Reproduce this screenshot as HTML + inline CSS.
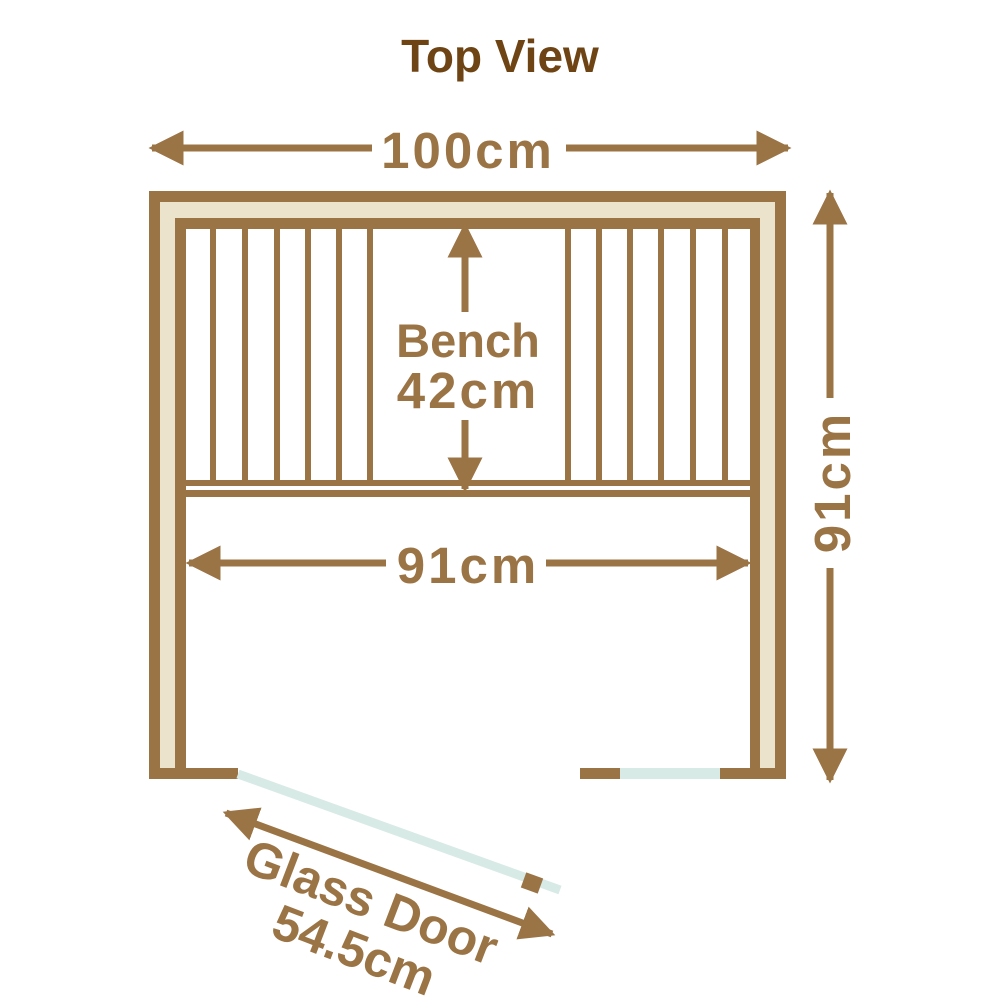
<!DOCTYPE html>
<html><head><meta charset="utf-8"><style>
html,body{margin:0;padding:0;background:#fff;}
svg{display:block;}
text{font-family:"Liberation Sans",sans-serif;font-weight:bold;}
</style></head><body>
<svg width="1000" height="1000" viewBox="0 0 1000 1000" xmlns="http://www.w3.org/2000/svg">
<defs>
<marker id="ah" viewBox="0 0 10 10" refX="9" refY="5" markerWidth="5" markerHeight="5" orient="auto-start-reverse" markerUnits="strokeWidth">
<path d="M0,0 L10,5 L0,10 z" fill="#9b7446"/>
</marker>
</defs>
<text x="500" y="72" text-anchor="middle" font-size="46" fill="#6e4414">Top View</text>
<g>
<rect x="149" y="191" width="637" height="11" fill="#9b7446"/>
<rect x="149" y="191" width="11" height="588" fill="#9b7446"/>
<rect x="775" y="191" width="11" height="588" fill="#9b7446"/>
<rect x="160" y="202" width="615" height="16" fill="#ece3cc"/>
<rect x="160" y="202" width="15" height="566" fill="#ece3cc"/>
<rect x="760" y="202" width="15" height="566" fill="#ece3cc"/>
<rect x="175" y="218" width="585" height="11" fill="#9b7446"/>
<rect x="175" y="218" width="11" height="561" fill="#9b7446"/>
<rect x="750" y="218" width="10" height="561" fill="#9b7446"/>
<rect x="149" y="768" width="89" height="11" fill="#9b7446"/>
<rect x="580" y="768" width="40" height="11" fill="#9b7446"/>
<rect x="620" y="768" width="100" height="11" fill="#d7eae6"/>
<rect x="720" y="768" width="66" height="11" fill="#9b7446"/>
<g fill="#9b7446">
<rect x="210" y="229" width="6" height="252"/>
<rect x="242" y="229" width="6" height="252"/>
<rect x="274" y="229" width="6" height="252"/>
<rect x="305" y="229" width="6" height="252"/>
<rect x="336" y="229" width="6" height="252"/>
<rect x="367" y="229" width="6" height="252"/>
<rect x="565" y="229" width="6" height="252"/>
<rect x="596" y="229" width="6" height="252"/>
<rect x="627" y="229" width="6" height="252"/>
<rect x="658" y="229" width="6" height="252"/>
<rect x="690" y="229" width="6" height="252"/>
<rect x="722" y="229" width="6" height="252"/>
<rect x="186" y="480" width="564" height="6"/>
<rect x="186" y="490" width="564" height="7"/>
</g>
</g>
<line x1="238" y1="774" x2="560" y2="890" stroke="#d7eae6" stroke-width="9"/>
<rect x="-9" y="-8" width="18" height="16" fill="#9b7446" transform="translate(532,883) rotate(20)"/>
<g stroke="#9b7446" stroke-width="7" fill="none">
<line x1="152" y1="148" x2="372" y2="148" marker-start="url(#ah)"/>
<line x1="566" y1="148" x2="788" y2="148" marker-end="url(#ah)"/>
<line x1="830" y1="193" x2="830" y2="398" marker-start="url(#ah)"/>
<line x1="830" y1="568" x2="830" y2="780" marker-end="url(#ah)"/>
<line x1="465" y1="226" x2="465" y2="312" marker-start="url(#ah)"/>
<line x1="465" y1="420" x2="465" y2="489" marker-end="url(#ah)"/>
<line x1="189" y1="563" x2="386" y2="563" marker-start="url(#ah)"/>
<line x1="546" y1="563" x2="748" y2="563" marker-end="url(#ah)"/>
<line x1="226" y1="813" x2="552" y2="934" marker-start="url(#ah)" marker-end="url(#ah)"/>
</g>
<g fill="#9b7446">
<text x="468" y="168" text-anchor="middle" font-size="51" letter-spacing="3">100cm</text>
<text x="468" y="357" text-anchor="middle" font-size="47">Bench</text>
<text x="468" y="408" text-anchor="middle" font-size="51" letter-spacing="3">42cm</text>
<text x="468" y="583" text-anchor="middle" font-size="51" letter-spacing="3">91cm</text>
<text transform="translate(850,482) rotate(-90)" text-anchor="middle" font-size="51" letter-spacing="3">91cm</text>
<text transform="translate(365,918) rotate(21)" text-anchor="middle" font-size="50">Glass Door</text>
<text transform="translate(348,966) rotate(21)" text-anchor="middle" font-size="50">54.5cm</text>
</g>
</svg>
</body></html>
